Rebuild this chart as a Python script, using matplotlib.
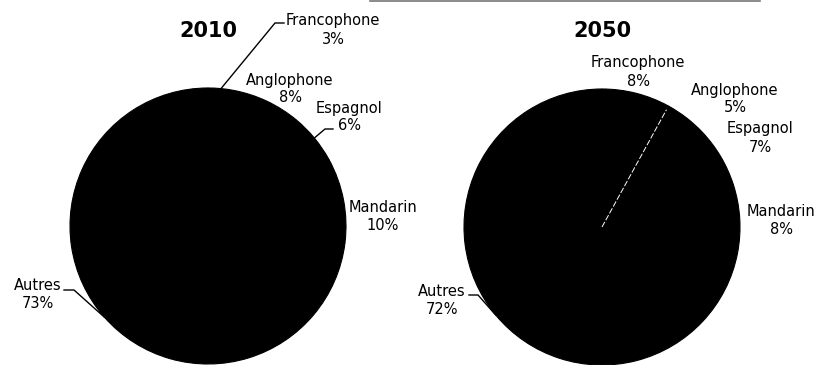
import numpy as np
import matplotlib.pyplot as plt
from matplotlib.lines import Line2D

W, H = 830, 365

langues = ['Francophone', 'Anglophone', 'Espagnol', 'Mandarin', 'Autres']
parts_2010 = [3, 8, 6, 10, 73]
parts_2050 = [8, 5, 7, 8, 72]

# label centres in picture pixels (x from left, y from top)
pos_2010 = [(333, 30), (290, 89), (349, 117), (383, 217), (38, 295)]
pos_2050 = [(638, 72), (735, 99), (760, 138), (781, 221), (442, 300)]

# leader lines: index -> (end near the text, elbow), in picture pixels
leaders_2010 = {0: ((284, 23), (275, 23)), 2: ((333, 129), (325, 129)), 4: ((64, 290), (74, 290))}
leaders_2050 = {4: ((469, 295), (478, 295))}

fig = plt.figure(figsize=(W / 100, H / 100), dpi=100)
ax = fig.add_axes([0, 0, 1, 1])


def draw_pie(values, centre, radius, title, positions, leaders, split=None):
    cx, cy = centre[0], H - centre[1]
    ax.pie(values, colors=['black'] * len(values), startangle=90, counterclock=False,
           center=(cx, cy), radius=radius,
           wedgeprops=dict(edgecolor='black', linewidth=0.8))
    total = float(sum(values))
    cum = np.cumsum(values)
    for i, (name, v) in enumerate(zip(langues, values)):
        px, py = positions[i]
        ax.text(px, H - py, f'{name}\n{v}%', ha='center', va='center',
                fontsize=10.5, linespacing=1.25)
        if i in leaders:
            end, elbow = leaders[i]
            mid = np.radians(90 - 360 * (cum[i] - v / 2) / total)
            ex, ey = cx + radius * np.cos(mid), cy + radius * np.sin(mid)
            ax.plot([end[0], elbow[0], ex], [H - end[1], H - elbow[1], ey],
                    color='black', lw=1.0, solid_joinstyle='miter')
    if split is not None:
        a = np.radians(90 - 360 * cum[split] / total)
        ax.plot([cx, cx + 0.97 * radius * np.cos(a)], [cy, cy + 0.97 * radius * np.sin(a)],
                color='white', lw=0.7, ls=(0, (6, 2)))
    ax.text(centre[0], H - 31, title, ha='center', va='center', fontsize=15, fontweight='bold')


draw_pie(parts_2010, (208, 226), 138, '2010', pos_2010, leaders_2010)
draw_pie(parts_2050, (602, 227), 138, '2050', pos_2050, leaders_2050, split=0)

ax.set_xlim(0, W)
ax.set_ylim(0, H)
ax.set_aspect('auto')
ax.axis('off')

fig.add_artist(Line2D([370 / W, 760 / W], [1 - 1 / H, 1 - 1 / H], color='#777777', lw=1.2))

fig.savefig('out.png', dpi=100, facecolor='white')
